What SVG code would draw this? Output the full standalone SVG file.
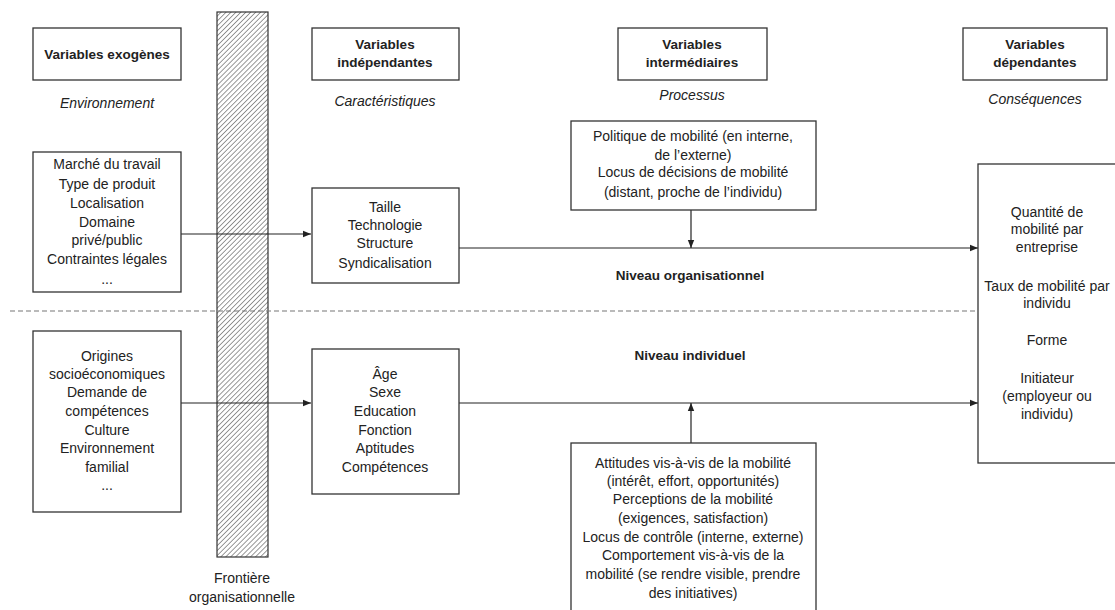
<svg xmlns="http://www.w3.org/2000/svg" width="1115" height="610" viewBox="0 0 1115 610">
<defs>
<pattern id="hatch" patternUnits="userSpaceOnUse" width="3.5" height="3.5" patternTransform="rotate(45)">
<rect width="3.5" height="3.5" fill="#fff"/>
<line x1="0" y1="0" x2="0" y2="3.5" stroke="#333" stroke-width="1"/>
</pattern>
<marker id="arr" viewBox="0 0 10 10" refX="10" refY="5" markerWidth="8" markerHeight="8" markerUnits="userSpaceOnUse" orient="auto">
<path d="M0,1 L10,5 L0,9 z" fill="#222"/>
</marker>
<style>
.box{fill:#fff;stroke:#333;stroke-width:1.3}
.t{font-family:"Liberation Sans",Arial,sans-serif;font-size:14px;fill:#222;text-anchor:middle}
.b{font-weight:bold;font-size:13.5px}
.i{font-style:italic}
.c{stroke:#222;stroke-width:1.2;fill:none}
</style>
</defs>
<rect width="1115" height="610" fill="#fff"/>

<g id="frontiere">
<rect x="217" y="12" width="51" height="545" fill="url(#hatch)" stroke="#333" stroke-width="1.2"/>
<text class="t" x="242" y="583">Frontière</text>
<text class="t" x="242" y="602">organisationnelle</text>
</g>

<g id="levels">
<line x1="10" y1="311" x2="978" y2="311" stroke="#777" stroke-width="1.2" stroke-dasharray="5,3"/>
<text class="t b" x="690" y="280">Niveau organisationnel</text>
<text class="t b" x="690" y="360">Niveau individuel</text>
</g>

<g id="connectors">
<line class="c" x1="181" y1="234" x2="311" y2="234" marker-end="url(#arr)"/>
<line class="c" x1="181" y1="403" x2="311" y2="403" marker-end="url(#arr)"/>
<line class="c" x1="459" y1="248" x2="978" y2="248" marker-end="url(#arr)"/>
<line class="c" x1="459" y1="403" x2="978" y2="403" marker-end="url(#arr)"/>
<line class="c" x1="691" y1="210" x2="691" y2="248" marker-end="url(#arr)"/>
<line class="c" x1="691" y1="443" x2="691" y2="403" marker-end="url(#arr)"/>
</g>

<g id="h-exogenes">
<rect class="box" x="33" y="28" width="148" height="52"/>
<text class="t b" x="107" y="59">Variables exogènes</text>
<text class="t i" x="107" y="108">Environnement</text>
</g>
<g id="h-independantes">
<rect class="box" x="312" y="28" width="147" height="52"/>
<text class="t b" x="385" y="49">Variables</text>
<text class="t b" x="385" y="67">indépendantes</text>
<text class="t i" x="385" y="106">Caractéristiques</text>
</g>
<g id="h-intermediaires">
<rect class="box" x="618" y="28" width="149" height="52"/>
<text class="t b" x="692" y="49">Variables</text>
<text class="t b" x="692" y="67">intermédiaires</text>
<text class="t i" x="692" y="100">Processus</text>
</g>
<g id="h-dependantes">
<rect class="box" x="963" y="28" width="144" height="52"/>
<text class="t b" x="1035" y="49">Variables</text>
<text class="t b" x="1035" y="67">dépendantes</text>
<text class="t i" x="1035" y="104">Conséquences</text>
</g>

<g id="env-org">
<rect class="box" x="33" y="152" width="148" height="140"/>
<text class="t" x="107" y="169">Marché du travail</text>
<text class="t" x="107" y="189">Type de produit</text>
<text class="t" x="107" y="208">Localisation</text>
<text class="t" x="107" y="227">Domaine</text>
<text class="t" x="107" y="245">privé/public</text>
<text class="t" x="107" y="264">Contraintes légales</text>
<text class="t" x="107" y="284">...</text>
</g>

<g id="env-ind">
<rect class="box" x="33" y="331" width="148" height="181"/>
<text class="t" x="107" y="361">Origines</text>
<text class="t" x="107" y="379">socioéconomiques</text>
<text class="t" x="107" y="397">Demande de</text>
<text class="t" x="107" y="416">compétences</text>
<text class="t" x="107" y="435">Culture</text>
<text class="t" x="107" y="453">Environnement</text>
<text class="t" x="107" y="472">familial</text>
<text class="t" x="107" y="490">...</text>
</g>

<g id="carac-org">
<rect class="box" x="312" y="188" width="147" height="95"/>
<text class="t" x="385" y="212">Taille</text>
<text class="t" x="385" y="230">Technologie</text>
<text class="t" x="385" y="248">Structure</text>
<text class="t" x="385" y="268">Syndicalisation</text>
</g>

<g id="carac-ind">
<rect class="box" x="312" y="349" width="147" height="145"/>
<text class="t" x="385" y="379">Âge</text>
<text class="t" x="385" y="397">Sexe</text>
<text class="t" x="385" y="416">Education</text>
<text class="t" x="385" y="435">Fonction</text>
<text class="t" x="385" y="453">Aptitudes</text>
<text class="t" x="385" y="472">Compétences</text>
</g>

<g id="proc-org">
<rect class="box" x="571" y="121" width="245" height="89"/>
<text class="t" x="693" y="141">Politique de mobilité (en interne,</text>
<text class="t" x="693" y="160">de l’externe)</text>
<text class="t" x="693" y="177">Locus de décisions de mobilité</text>
<text class="t" x="693" y="197">(distant, proche de l’individu)</text>
</g>

<g id="proc-ind">
<rect class="box" x="571" y="443" width="245" height="180"/>
<text class="t" x="693" y="468">Attitudes vis-à-vis de la mobilité</text>
<text class="t" x="693" y="486">(intérêt, effort, opportunités)</text>
<text class="t" x="693" y="504">Perceptions de la mobilité</text>
<text class="t" x="693" y="523">(exigences, satisfaction)</text>
<text class="t" x="693" y="542">Locus de contrôle (interne, externe)</text>
<text class="t" x="693" y="560">Comportement vis-à-vis de la</text>
<text class="t" x="693" y="579">mobilité (se rendre visible, prendre</text>
<text class="t" x="693" y="598">des initiatives)</text>
</g>

<g id="consequences">
<rect class="box" x="978" y="164" width="150" height="299"/>
<text class="t" x="1047" y="217">Quantité de</text>
<text class="t" x="1047" y="234">mobilité par</text>
<text class="t" x="1047" y="252">entreprise</text>
<text class="t" x="1047" y="291">Taux de mobilité par</text>
<text class="t" x="1047" y="308">individu</text>
<text class="t" x="1047" y="345">Forme</text>
<text class="t" x="1047" y="383">Initiateur</text>
<text class="t" x="1047" y="401">(employeur ou</text>
<text class="t" x="1047" y="419">individu)</text>
</g>
</svg>
